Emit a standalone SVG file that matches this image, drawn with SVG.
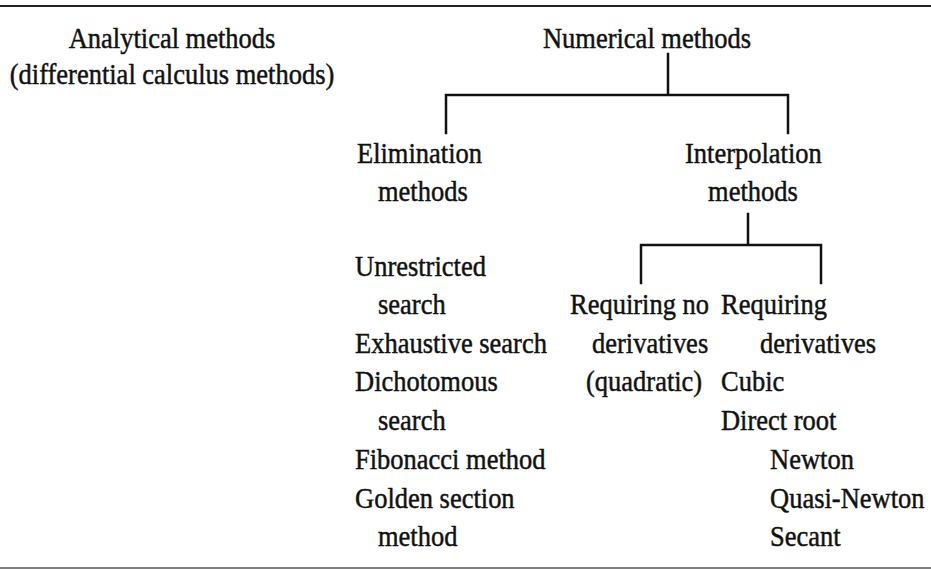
<svg xmlns="http://www.w3.org/2000/svg" width="931" height="571" viewBox="0 0 931 571">
<style>
  text { font-family: "Liberation Serif", "Times New Roman", serif; font-size: 28.8px; fill: #111; stroke: #111; stroke-width: 0.45; }
  .c { text-anchor: middle; }
  .ln { stroke: #111; stroke-width: 2.5; fill: none; stroke-linecap: square; }
  .rule { stroke: #222; stroke-width: 2; }
  .rule2 { stroke: #555; stroke-width: 1.5; }
</style>
<rect width="931" height="571" fill="#fff"/>
<line class="rule" x1="0" y1="6" x2="931" y2="6"/>
<line class="rule2" x1="0" y1="568" x2="931" y2="568"/>

<g id="connectors">
  <path class="ln" d="M668 54 V95 M446 95 H788 M446 95 V133 M788 95 V133"/>
  <path class="ln" d="M748 214 V245 M641 245 H821 M641 245 V283 M821 245 V283"/>
</g>

<g id="analytical" transform="scale(0.92 1)">
  <text class="c" x="187" y="48">Analytical methods</text>
  <text class="c" x="187" y="84">(differential calculus methods)</text>
</g>
<g id="numerical" transform="scale(0.92 1)">
  <text x="590.2" y="48">Numerical methods</text>
</g>
<g id="elimination" transform="scale(0.92 1)">
  <text x="388" y="163">Elimination</text>
  <text x="410.9" y="201">methods</text>
</g>
<g id="interpolation" transform="scale(0.92 1)">
  <text x="744.6" y="163">Interpolation</text>
  <text x="769.6" y="201">methods</text>
</g>
<g id="elimination-list" transform="scale(0.92 1)">
  <text x="385.9" y="276">Unrestricted</text>
  <text x="410.9" y="314">search</text>
  <text x="385.9" y="353">Exhaustive search</text>
  <text x="385.9" y="391">Dichotomous</text>
  <text x="410.9" y="430">search</text>
  <text x="385.9" y="469">Fibonacci method</text>
  <text x="385.9" y="508">Golden section</text>
  <text x="410.9" y="546">method</text>
</g>
<g id="no-derivatives" transform="scale(0.92 1)">
  <text x="619.6" y="314">Requiring no</text>
  <text x="643.5" y="353">derivatives</text>
  <text x="637" y="391">(quadratic)</text>
</g>
<g id="derivatives" transform="scale(0.92 1)">
  <text x="783.7" y="314">Requiring</text>
  <text x="826.1" y="353">derivatives</text>
  <text x="783.7" y="391">Cubic</text>
  <text x="783.7" y="430">Direct root</text>
  <text x="837" y="469">Newton</text>
  <text x="837" y="508">Quasi-Newton</text>
  <text x="837" y="546">Secant</text>
</g>
</svg>
